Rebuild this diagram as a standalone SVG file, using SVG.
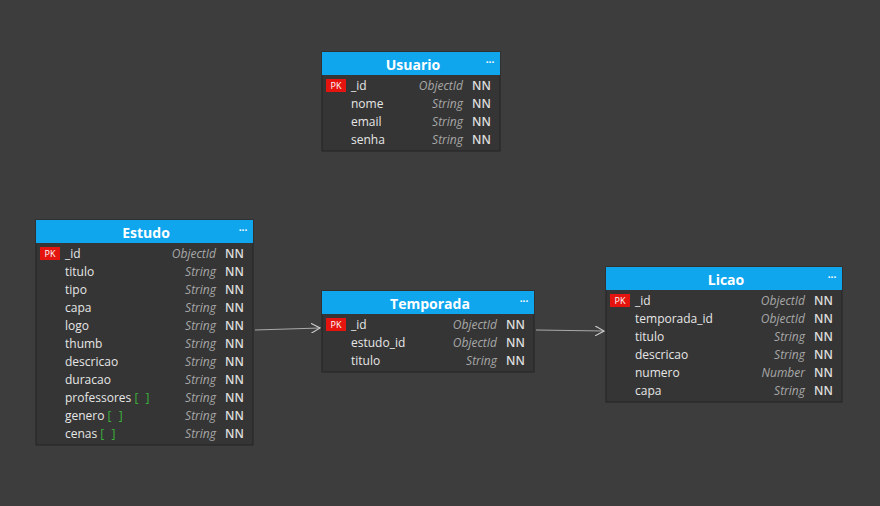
<svg xmlns="http://www.w3.org/2000/svg" width="880" height="506" viewBox="0 0 880 506">
<defs>
<style>
.t{font-family:"Open Sans","Noto Sans","DejaVu Sans",sans-serif}
.box{fill:#353535;stroke:#242424;stroke-width:1}
.hd{fill:#10a6ee}
.ttl{font-size:14px;font-weight:bold;fill:#ffffff;text-anchor:middle}
.dots{font-size:10px;font-weight:bold;fill:#ffffff;text-anchor:middle}
.nm{font-size:12px;fill:#e6e6e6}
.ty{font-size:12px;font-style:italic;fill:#a8a8a8;text-anchor:end}
.nn{font-size:12px;font-weight:600;fill:#dcdcdc}
.pk{fill:#e5140f}
.pkt{font-size:9px;fill:#ffffff;text-anchor:middle}
.arr{font-size:12px;fill:#3bb03b;letter-spacing:2px}
.cn{fill:none;stroke:#a9a9a9;stroke-width:1.2}
</style>
<marker id="ah" viewBox="0 0 10 10" refX="9" refY="5" markerWidth="10" markerHeight="10" markerUnits="userSpaceOnUse" orient="auto">
<path d="M0,0 L9,5 L0,10" fill="none" stroke="#c8c8c8" stroke-width="1.2"/>
</marker>
</defs>
<rect width="880" height="506" fill="#3d3d3d"/>
<g id="connectors">
<path class="cn" d="M255,330 L320,328" marker-end="url(#ah)"/>
<path class="cn" d="M536,330 L604,331" marker-end="url(#ah)"/>
</g>
<g id="usuario" class="t" transform="translate(322,52)">
<rect class="box" x="0" y="0" width="178" height="99"/>
<rect class="hd" x="0" y="0" width="178" height="23"/>
<text class="ttl" x="91" y="18">Usuario</text>
<text class="dots" x="168" y="14">···</text>
<rect class="pk" x="4" y="27" width="20" height="13"/>
<text class="pkt" x="14" y="37">PK</text>
<text class="nm" x="29" y="38">_id</text><text class="ty" x="141" y="38">ObjectId</text><text class="nn" x="150" y="38">NN</text>
<text class="nm" x="29" y="56">nome</text><text class="ty" x="141" y="56">String</text><text class="nn" x="150" y="56">NN</text>
<text class="nm" x="29" y="74">email</text><text class="ty" x="141" y="74">String</text><text class="nn" x="150" y="74">NN</text>
<text class="nm" x="29" y="92">senha</text><text class="ty" x="141" y="92">String</text><text class="nn" x="150" y="92">NN</text>
</g>
<g id="estudo" class="t" transform="translate(36,220)">
<rect class="box" x="0" y="0" width="217" height="225"/>
<rect class="hd" x="0" y="0" width="217" height="23"/>
<text class="ttl" x="110" y="18">Estudo</text>
<text class="dots" x="207" y="14">···</text>
<rect class="pk" x="4" y="27" width="20" height="13"/>
<text class="pkt" x="14" y="37">PK</text>
<text class="nm" x="29" y="38">_id</text><text class="ty" x="180" y="38">ObjectId</text><text class="nn" x="189" y="38">NN</text>
<text class="nm" x="29" y="56">titulo</text><text class="ty" x="180" y="56">String</text><text class="nn" x="189" y="56">NN</text>
<text class="nm" x="29" y="74">tipo</text><text class="ty" x="180" y="74">String</text><text class="nn" x="189" y="74">NN</text>
<text class="nm" x="29" y="92">capa</text><text class="ty" x="180" y="92">String</text><text class="nn" x="189" y="92">NN</text>
<text class="nm" x="29" y="110">logo</text><text class="ty" x="180" y="110">String</text><text class="nn" x="189" y="110">NN</text>
<text class="nm" x="29" y="128">thumb</text><text class="ty" x="180" y="128">String</text><text class="nn" x="189" y="128">NN</text>
<text class="nm" x="29" y="146">descricao</text><text class="ty" x="180" y="146">String</text><text class="nn" x="189" y="146">NN</text>
<text class="nm" x="29" y="164">duracao</text><text class="ty" x="180" y="164">String</text><text class="nn" x="189" y="164">NN</text>
<text class="nm" x="29" y="182">professores <tspan class="arr">[ ]</tspan></text><text class="ty" x="180" y="182">String</text><text class="nn" x="189" y="182">NN</text>
<text class="nm" x="29" y="200">genero <tspan class="arr">[ ]</tspan></text><text class="ty" x="180" y="200">String</text><text class="nn" x="189" y="200">NN</text>
<text class="nm" x="29" y="218">cenas <tspan class="arr">[ ]</tspan></text><text class="ty" x="180" y="218">String</text><text class="nn" x="189" y="218">NN</text>
</g>
<g id="temporada" class="t" transform="translate(322,291)">
<rect class="box" x="0" y="0" width="212" height="81"/>
<rect class="hd" x="0" y="0" width="212" height="23"/>
<text class="ttl" x="108" y="18">Temporada</text>
<text class="dots" x="202" y="14">···</text>
<rect class="pk" x="4" y="27" width="20" height="13"/>
<text class="pkt" x="14" y="37">PK</text>
<text class="nm" x="29" y="38">_id</text><text class="ty" x="175" y="38">ObjectId</text><text class="nn" x="184" y="38">NN</text>
<text class="nm" x="29" y="56">estudo_id</text><text class="ty" x="175" y="56">ObjectId</text><text class="nn" x="184" y="56">NN</text>
<text class="nm" x="29" y="74">titulo</text><text class="ty" x="175" y="74">String</text><text class="nn" x="184" y="74">NN</text>
</g>
<g id="licao" class="t" transform="translate(606,267)">
<rect class="box" x="0" y="0" width="236" height="135"/>
<rect class="hd" x="0" y="0" width="236" height="23"/>
<text class="ttl" x="120" y="18">Licao</text>
<text class="dots" x="226" y="14">···</text>
<rect class="pk" x="4" y="27" width="20" height="13"/>
<text class="pkt" x="14" y="37">PK</text>
<text class="nm" x="29" y="38">_id</text><text class="ty" x="199" y="38">ObjectId</text><text class="nn" x="208" y="38">NN</text>
<text class="nm" x="29" y="56">temporada_id</text><text class="ty" x="199" y="56">ObjectId</text><text class="nn" x="208" y="56">NN</text>
<text class="nm" x="29" y="74">titulo</text><text class="ty" x="199" y="74">String</text><text class="nn" x="208" y="74">NN</text>
<text class="nm" x="29" y="92">descricao</text><text class="ty" x="199" y="92">String</text><text class="nn" x="208" y="92">NN</text>
<text class="nm" x="29" y="110">numero</text><text class="ty" x="199" y="110">Number</text><text class="nn" x="208" y="110">NN</text>
<text class="nm" x="29" y="128">capa</text><text class="ty" x="199" y="128">String</text><text class="nn" x="208" y="128">NN</text>
</g>
</svg>
